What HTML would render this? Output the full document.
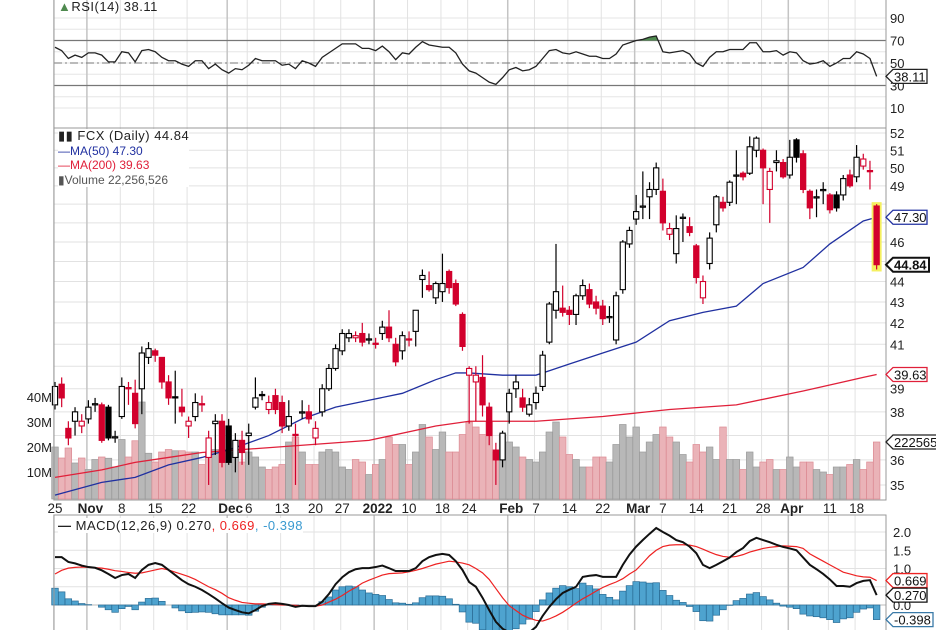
<!DOCTYPE html>
<html><head><meta charset="utf-8"><style>
html,body{margin:0;padding:0;background:#fff;}
svg{display:block;font-family:"Liberation Sans",sans-serif;}
</style></head><body>
<svg id="chart" width="936" height="630" viewBox="0 0 936 630" xmlns="http://www.w3.org/2000/svg">
<g id="grid"></g>
<g id="rsiG"></g>
<g id="volG"></g>
<g id="maG"></g>
<g id="candleG"></g>
<g id="macdG"></g>
<g id="axisG"></g>
<g id="labelG"></g>
</svg>
<script>
const opens=[38.3,39.2,37.3,37.6,37.4,37.7,38.3,38.3,38.2,36.9,37.8,39.05,38.8,39.0,40.4,40.7,40.4,39.3,38.65,38.2,37.4,37.8,38.35,36.1,37.5,37.6,37.4,36.1,36.8,37.0,38.2,38.75,38.1,38.7,38.4,37.4,37.05,37.95,38.0,36.9,38.0,39.0,39.9,40.7,41.3,41.3,41.5,41.2,41.05,41.5,41.8,41.0,40.7,41.25,41.6,44.1,43.8,43.2,43.5,44.5,43.9,42.4,39.6,39.3,39.5,38.2,36.4,36.0,38.0,39.0,38.6,37.9,38.4,39.1,41.1,42.6,42.7,42.6,42.4,43.3,43.6,43.0,42.8,42.25,41.2,43.6,45.9,47.2,47.85,48.4,48.8,48.7,46.4,45.4,47.25,46.8,45.8,43.2,44.9,46.9,48.1,48.1,49.55,49.7,49.7,51.0,51.0,48.8,50.3,50.3,49.6,51.6,50.8,48.7,48.35,48.75,48.5,48.5,48.5,49.6,49.5,50.1,49.85,47.9];
const highs=[39.3,39.5,37.6,38.2,37.9,38.5,38.6,38.4,38.3,37.2,39.5,39.3,39.4,40.9,41.1,40.8,40.4,39.6,39.8,39.0,37.8,38.8,38.7,37.2,37.9,37.9,37.7,37.1,37.2,37.5,39.5,38.9,38.7,39.0,38.7,38.5,37.5,38.5,38.3,37.6,39.2,40.1,41.0,41.7,41.7,41.6,42.0,41.5,41.3,42.1,42.6,41.3,41.6,41.6,42.6,44.6,44.5,44.0,45.4,44.6,44.1,42.5,40.0,40.0,40.5,38.4,36.7,37.2,39.0,39.6,39.0,38.6,39.1,40.7,43.0,45.9,43.8,42.8,43.4,44.1,43.9,43.3,43.1,42.8,43.5,46.1,46.8,48.5,49.8,49.2,50.3,49.4,47.0,47.4,47.5,47.3,45.9,44.3,46.5,48.5,48.4,49.3,51.0,49.8,51.8,51.8,51.1,50.0,51.0,50.5,51.6,51.7,51.0,48.8,48.8,49.2,48.6,48.7,49.6,49.9,51.3,50.8,50.4,48.0];
const lows=[38.1,38.2,36.6,37.0,37.1,37.5,38.0,36.7,36.8,36.7,37.7,38.3,37.3,37.9,40.1,40.2,39.0,38.3,37.5,37.8,36.9,37.6,38.0,35.0,36.2,35.7,35.8,35.5,35.8,35.8,38.1,38.5,37.9,37.9,37.1,37.2,35.0,37.7,37.5,36.6,37.8,38.9,39.8,40.5,41.1,41.1,40.9,41.0,40.8,41.2,41.1,40.0,40.3,40.9,40.9,43.2,43.5,42.9,43.0,43.4,42.8,40.7,37.5,37.6,37.8,36.6,35.0,35.7,37.5,38.6,38.0,37.8,38.1,38.9,41.0,42.2,42.3,41.9,41.9,43.1,42.7,42.4,41.9,42.0,41.0,43.4,45.7,46.9,47.2,47.2,48.5,46.6,46.1,44.9,46.0,46.3,43.9,42.9,44.6,46.5,47.6,47.9,48.0,49.3,49.6,50.6,48.0,47.0,49.8,49.4,49.4,50.3,48.6,47.2,47.3,48.0,47.5,47.6,48.2,48.9,49.2,49.9,48.8,44.6];
const closes=[39.1,38.6,36.9,38.0,37.6,38.2,38.35,36.8,36.9,36.95,39.1,39.0,37.5,40.6,40.8,40.5,39.3,38.6,38.6,38.0,37.6,38.4,38.3,36.9,37.6,35.9,35.9,36.8,36.3,37.1,38.6,38.7,38.4,38.1,37.4,37.8,37.0,38.0,37.7,37.3,39.0,39.9,40.8,41.5,41.5,41.4,41.1,41.25,41.0,41.8,41.3,40.2,41.4,41.2,42.6,44.3,43.6,43.9,43.9,43.7,42.9,40.9,39.9,39.6,38.3,37.0,36.0,37.1,38.8,39.3,38.2,38.3,38.8,40.5,42.9,43.5,42.5,42.4,43.3,43.8,42.9,42.7,42.2,42.3,43.3,46.0,46.6,47.6,47.9,48.8,50.0,47.0,46.7,46.7,47.3,46.5,44.2,44.0,46.2,48.4,47.8,49.2,49.6,49.5,51.2,51.7,50.0,49.8,50.4,49.5,50.6,50.6,48.8,47.8,48.4,48.8,47.7,47.8,49.4,49.0,50.6,50.5,49.8,44.84];
const volumes=[20,15.6,19.6,13.6,15.6,11,15,16,15.5,12,23,16,22.5,38,17.5,14,18,19,18.5,18.5,18,18,13,18,19,19,14,18,14,18,16,12,11,12,13,22,24,18,13,13,18,19,18,12,11,15,14,9,13,15,24,21,21,13,18,29,24,19,26,18,18,25,30,28,25,30,18,25,22,20,16,15,14,18,26,30,24,17,15,12,12,16,16,14,21,29,24,28,18,22,25,28,24,22,17,14,21,18,20,15,28,15,15,11,18,12,14,15,11,11,16,12,14,14,11,10,9,12,12,13,15,11,14,22];
const ma50Idx=[0,7,12,17,22,27,32,37,42,47,52,57,60,62,67,72,74,77,82,87,92,97,102,106,112,116,121,123];
const ma50Val=[34.6,35.1,35.3,35.8,36.1,36.5,37.0,37.7,38.2,38.5,38.8,39.4,39.7,39.7,39.6,39.6,39.8,40.1,40.6,41.1,42.1,42.5,42.8,43.9,44.7,45.9,47.1,47.3];
const ma200Idx=[0,7,12,17,22,27,37,47,57,62,72,82,92,102,112,121,123];
const ma200Val=[35.3,35.6,35.9,36.1,36.3,36.4,36.6,36.8,37.4,37.6,37.6,37.8,38.1,38.3,38.9,39.5,39.63];
const rsi=[64,61,54,57,55,59,59,57,51,51,60,59,51,61,62,60,55,52,52,49,47,52,52,45,49,44,41,45,44,48,54,52,52,52,48,49,45,52,50,47,55,59,63,67,67,67,63,63,61,65,60,53,59,58,64,69,66,65,64,64,59,49,43,41,37,33,31,37,44,46,43,44,47,54,61,62,59,58,60,58,56,56,54,54,58,66,68,70,71,73,74,60,59,60,61,58,50,47,55,60,60,62,62,62,68,68,60,60,61,57,60,59,52,49,50,52,47,50,54,54,60,58,54,38.11];
const macd=[1.31,1.31,1.18,1.14,1.08,1.04,1.02,0.95,0.85,0.74,0.82,0.85,0.74,0.96,1.1,1.15,1.1,0.96,0.82,0.68,0.57,0.5,0.41,0.3,0.18,0.05,-0.07,-0.14,-0.2,-0.23,-0.14,-0.03,0.03,0.05,0.03,0,-0.05,-0.02,-0.03,-0.03,0.09,0.3,0.57,0.76,0.9,0.98,1.01,1.01,1.04,1.08,1.01,0.93,0.93,0.93,1.01,1.2,1.31,1.37,1.4,1.37,1.2,0.96,0.63,0.5,0.2,-0.14,-0.46,-0.65,-0.75,-0.8,-0.8,-0.75,-0.6,-0.3,-0.05,0.16,0.33,0.42,0.5,0.77,0.8,0.82,0.77,0.77,0.77,1.1,1.38,1.6,1.78,1.95,2.11,2.0,1.9,1.78,1.72,1.6,1.42,1.1,1.01,1.1,1.2,1.3,1.45,1.56,1.75,1.84,1.78,1.72,1.65,1.59,1.55,1.5,1.3,1.1,0.98,0.85,0.7,0.52,0.52,0.5,0.6,0.66,0.68,0.27];
const signal=[0.85,0.95,1.01,1.03,1.04,1.03,1.02,1.01,0.98,0.94,0.92,0.89,0.87,0.88,0.92,0.96,1.0,0.96,0.9,0.84,0.78,0.7,0.6,0.5,0.42,0.32,0.2,0.13,0.07,0.05,0.03,0.03,0.02,0.01,0,0,-0.01,-0.02,-0.03,-0.03,0,0.08,0.16,0.26,0.38,0.48,0.6,0.68,0.75,0.82,0.86,0.87,0.88,0.91,0.95,1.0,1.06,1.12,1.16,1.2,1.18,1.15,1.1,1.0,0.88,0.7,0.45,0.2,-0.02,-0.15,-0.28,-0.36,-0.42,-0.44,-0.38,-0.3,-0.2,-0.08,0.05,0.17,0.27,0.38,0.48,0.56,0.63,0.72,0.85,0.96,1.15,1.35,1.5,1.6,1.64,1.65,1.65,1.64,1.6,1.53,1.45,1.38,1.33,1.31,1.33,1.38,1.45,1.5,1.55,1.58,1.6,1.62,1.61,1.6,1.55,1.4,1.3,1.2,1.1,1.0,0.9,0.85,0.8,0.77,0.76,0.67];
const tickIdx=[0,5,10,15,20,26,29,34,39,43,48,53,58,62,68,72,77,82,87,91,96,101,106,110,116,120];
const tickLbl=["25","Nov","8","15","22","Dec","6","13","20","27","2022","10","18","24","Feb","7","14","22","Mar","7","14","21","28","Apr","11","18"];
const tickMajor=[0,1,0,0,0,1,0,0,0,0,1,0,0,0,1,0,0,0,1,0,0,0,0,1,0,0];
const priceTicks=[35,36,37,38,39,40,41,42,43,44,45,46,47,48,49,50,51,52];
const priceLbls=[35,36,38,39,41,42,43,44,46,49,50,51,52];
const volTicks=[10,20,30,40];
const rsiTicks=[10,20,30,40,50,60,70,80,90];
const rsiLbls=[10,30,50,70,90];
const macdTicks=[0,0.5,1.0,1.5,2.0];
const macdLbls=["0.0","1.0","1.5","2.0"];
const macdLblVals=[0,1.0,1.5,2.0];

const NS="http://www.w3.org/2000/svg";
const L=54,R=886;
const x=i=>55+i*6.68;
const yP=p=>133+(Math.log(52)-Math.log(p))*889;
const yV=v=>497-v*2.5;
const yR=v=>63-(v-50)*1.125;
const yM=v=>605-v*36.5;
function mk(parent,tag,attrs,text){const e=document.createElementNS(NS,tag);for(const k in attrs)e.setAttribute(k,attrs[k]);if(text!==undefined)e.textContent=text;document.getElementById(parent).appendChild(e);return e;}

for(let v of priceTicks){const e=mk('grid','line',{x1:L,x2:R,y1:yP(v),y2:yP(v),stroke:'#e2e2e2','stroke-width':1});

}
for(let v of rsiTicks){const e=mk('grid','line',{x1:L,x2:R,y1:yR(v),y2:yR(v),stroke:'#e6e6e6'});

}
for(let v of macdTicks){const e=mk('grid','line',{x1:L,x2:R,y1:yM(v),y2:yM(v),stroke:'#e2e2e2'});

}
tickIdx.forEach((t,k)=>{const xx=x(t)-1.5;
const e=mk('grid','line',{x1:xx,x2:xx,y1:0,y2:630,stroke:tickMajor[k]?'#c4c4c4':'#e2e2e2','stroke-width':tickMajor[k]?1.5:1});

});

[70,30].forEach(v=>{const e=mk('rsiG','line',{x1:L,x2:R,y1:yR(v),y2:yR(v),stroke:'#777','stroke-width':1.3});

});
{const e=mk('rsiG','line',{x1:L,x2:R,y1:yR(50),y2:yR(50),stroke:'#777','stroke-dasharray':'8,3,2,3'});

}
const rsiPts=rsi.map((v,i)=>x(i)+','+yR(v)).join(' ');
mk('rsiG','clipPath',{id:'ob'});
mk('ob','rect',{x:L,y:0,width:R-L,height:yR(70)});
{const e=mk('rsiG','polygon',{points:x(0)+','+yR(70)+' '+rsiPts+' '+x(rsi.length-1)+','+yR(70),fill:'#4f8a4f','clip-path':'url(#ob)'});

}
{const e=mk('rsiG','polyline',{points:rsiPts,fill:'none',stroke:'#222','stroke-width':1.3});

}

volumes.forEach((v,i)=>{const up=i===0||closes[i]>=closes[i-1];
const e=mk('volG','rect',{x:x(i)-3.3,y:yV(v),width:6.6,height:497-yV(v)+2,fill:up?'#b8b8b8':'#eab3b8',stroke:up?'#9a9a9a':'#dc8a93','stroke-width':0.7});

});

{const e=mk('maG','polyline',{points:ma200Idx.map((t,k)=>x(t)+','+yP(ma200Val[k])).join(' '),fill:'none',stroke:'#e0203a','stroke-width':1.3});

}
{const e=mk('maG','polyline',{points:ma50Idx.map((t,k)=>x(t)+','+yP(ma50Val[k])).join(' '),fill:'none',stroke:'#2030a0','stroke-width':1.3});

}

{const n=closes.length-1;const e=mk('candleG','rect',{x:x(n)-5,y:yP(highs[n])-2,width:10,height:yP(lows[n])-yP(highs[n])+4,fill:'#f5f060'});

}
closes.forEach((c,i)=>{const o=opens[i];const prev=i?closes[i-1]:o;const down=c<prev;const col=down?'#d2002c':'#000';
const hollow=c>o;const top=yP(Math.max(o,c)),bot=yP(Math.min(o,c));
const w=mk('candleG','line',{x1:x(i),x2:x(i),y1:yP(highs[i]),y2:yP(lows[i]),stroke:col,'stroke-width':1.2});


const b=mk('candleG','rect',{x:x(i)-2.6,y:top,width:5.2,height:Math.max(1.2,bot-top),fill:hollow?'#fff':col,stroke:col,'stroke-width':1.1});

});

{const e=mk('macdG','line',{x1:L,x2:R,y1:yM(0),y2:yM(0),stroke:'#bbb'});

}
macd.forEach((m,i)=>{const h=m-signal[i];const y0=yM(0),y1=yM(h);
const e=mk('macdG','rect',{x:x(i)-3.3,y:Math.min(y0,y1),width:6.6,height:Math.abs(y1-y0),fill:'#4ea3cf',stroke:'#2a6c95','stroke-width':0.7});

});
{const e=mk('macdG','polyline',{points:signal.map((v,i)=>x(i)+','+yM(v)).join(' '),fill:'none',stroke:'#ee2222','stroke-width':1.2});

}
{const e=mk('macdG','polyline',{points:macd.map((v,i)=>x(i)+','+yM(v)).join(' '),fill:'none',stroke:'#111','stroke-width':2});

}

[[L,0,L,630],[R,0,R,630],[L,128,R,128],[L,500,R,500],[L,515,R,515]].forEach(a=>{const e=mk('axisG','line',{x1:a[0],y1:a[1],x2:a[2],y2:a[3],stroke:'#999','stroke-width':1});

});
{const e=mk('axisG','rect',{x:0,y:500.5,width:936,height:14,fill:'#fff'});

}
tickIdx.forEach((t,k)=>{const e=mk('axisG','text',{x:x(t)+(tickMajor[k]?2:0),y:513,'font-size':13.5,'text-anchor':'middle','font-weight':tickMajor[k]?'bold':'normal',fill:'#222'},tickLbl[k]);

});
priceLbls.forEach(v=>{const e=mk('axisG','text',{x:890,y:yP(v)+5,'font-size':13,fill:'#222'},String(v));

});
rsiLbls.forEach(v=>{const e=mk('axisG','text',{x:890,y:yR(v)+5,'font-size':13,fill:'#222'},String(v));

});
macdLbls.forEach((s,k)=>{const e=mk('axisG','text',{x:893,y:yM(macdLblVals[k])+5,'font-size':13,fill:'#222'},s);

});
volTicks.forEach(v=>{const e=mk('axisG','text',{x:52,y:yV(v)+5,'font-size':13,'text-anchor':'end',fill:'#222'},v+'M');

});

function tag(name,yc,txt,col,bold,w){const g=document.createElementNS(NS,'g');document.getElementById('labelG').appendChild(g);


const p=document.createElementNS(NS,'path');p.setAttribute('d',`M886 ${yc} L893 ${yc-7} L${893+w} ${yc-7} L${893+w} ${yc+7} L893 ${yc+7} Z`);p.setAttribute('fill','#fff');p.setAttribute('stroke',col);p.setAttribute('stroke-width',bold?2:1.3);g.appendChild(p);
const t=document.createElementNS(NS,'text');t.setAttribute('x',894);t.setAttribute('y',yc+5);t.setAttribute('font-size',13);t.setAttribute('fill','#111');if(bold)t.setAttribute('font-weight','bold');t.textContent=txt;g.appendChild(t);}
tag('rsi-value-tag',yR(rsi[rsi.length-1]),'38.11','#222',false,34);
tag('ma50-value-tag',yP(ma50Val[ma50Val.length-1]),'47.30','#2030a0',false,34);
tag('close-value-tag',yP(closes[closes.length-1]),'44.84','#111',true,36);
tag('ma200-value-tag',yP(ma200Val[ma200Val.length-1]),'39.63','#e0203a',false,34);
tag('volume-value-tag',yV(volumes[volumes.length-1]),'222565','#222',false,44);
tag('macd-signal-tag',yM(signal[signal.length-1]),'0.669','#ee2222',false,34);
tag('macd-value-tag',yM(macd[macd.length-1]),'0.270','#111',false,34);
tag('macd-hist-tag',yM(macd[macd.length-1]-signal[signal.length-1]),'-0.398','#3a7aa8',false,40);
</script>
<div style="position:absolute;left:0;top:0;width:936px;height:630px;pointer-events:none;font-family:'Liberation Sans',sans-serif;font-size:13px;color:#222;letter-spacing:0.5px">
<div style="position:absolute;left:58px;top:-1px;white-space:nowrap"><span style="color:#4f8a4f">&#9650;</span>RSI(14) 38.11</div>
<div style="position:absolute;left:58px;top:129px;white-space:nowrap;line-height:14.5px;background:#fff">
<div>&#9646;&#9646; FCX (Daily) 44.84</div>
<div style="color:#2030a0;font-size:12px;letter-spacing:0">&#8212;MA(50) 47.30</div>
<div style="color:#e0203a;font-size:12px;letter-spacing:0">&#8212;MA(200) 39.63</div>
<div style="color:#555;font-size:12px;letter-spacing:0">&#9646;Volume 22,256,526</div>
</div>
<div style="position:absolute;left:58px;top:518px;white-space:nowrap;background:#fff"><b>&#8212;</b> MACD(12,26,9) 0.270<span style="color:#ee2222">, 0.669</span><span style="color:#3a9ad0">, -0.398</span></div>
</div>
</body></html>
